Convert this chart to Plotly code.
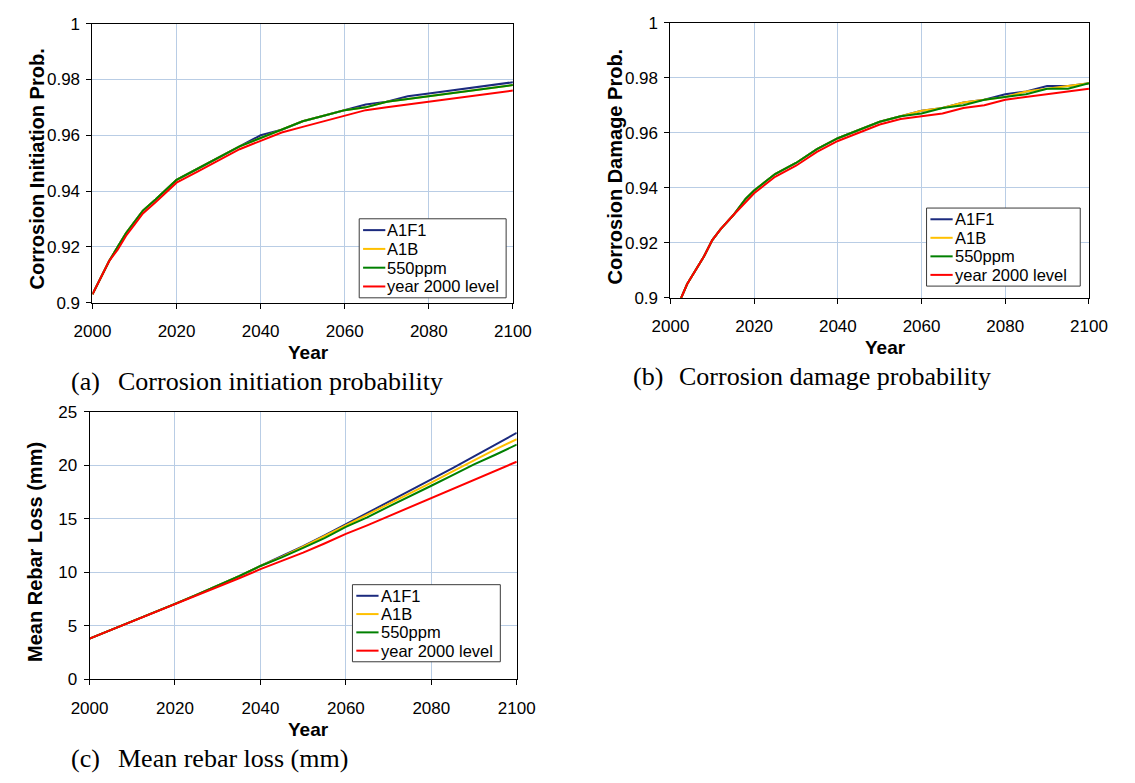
import plotly.graph_objects as go

# ---- data -------------------------------------------------------------
series_names = ["A1F1", "A1B", "550ppm", "year 2000 level"]
series_colors = ["#1b2a7e", "#ffc000", "#008000", "#ff0000"]

prob_years = [2000, 2002, 2004, 2006, 2008, 2010, 2012, 2015, 2018, 2020,
              2025, 2030, 2035, 2040, 2045, 2050, 2055, 2060, 2065, 2070,
              2075, 2080, 2085, 2090, 2095, 2100]

# (a) corrosion initiation probability
init_a1f1 = [0.903, 0.909, 0.915, 0.920, 0.925, 0.929, 0.933, 0.937, 0.941, 0.944,
             0.948, 0.952, 0.956, 0.960, 0.962, 0.965, 0.967, 0.969, 0.971, 0.972,
             0.974, 0.975, 0.976, 0.977, 0.978, 0.979]
init_a1b = [0.903, 0.909, 0.915, 0.920, 0.925, 0.929, 0.933, 0.937, 0.941, 0.944,
            0.948, 0.952, 0.956, 0.959, 0.962, 0.965, 0.967, 0.969, 0.970, 0.972,
            0.973, 0.974, 0.975, 0.976, 0.977, 0.978]
init_550 = [0.903, 0.909, 0.915, 0.920, 0.925, 0.929, 0.933, 0.937, 0.941, 0.944,
            0.948, 0.952, 0.956, 0.959, 0.962, 0.965, 0.967, 0.969, 0.970, 0.972,
            0.973, 0.974, 0.975, 0.976, 0.977, 0.978]
init_2000 = [0.903, 0.909, 0.915, 0.919, 0.924, 0.928, 0.932, 0.936, 0.940, 0.943,
             0.947, 0.951, 0.955, 0.958, 0.961, 0.963, 0.965, 0.967, 0.969, 0.970,
             0.971, 0.972, 0.973, 0.974, 0.975, 0.976]

# (b) corrosion damage probability
dmg_a1f1 = [0.891, 0.898, 0.905, 0.910, 0.915, 0.921, 0.925, 0.930, 0.936, 0.939,
            0.945, 0.949, 0.954, 0.958, 0.961, 0.964, 0.966, 0.968, 0.969, 0.971,
            0.972, 0.974, 0.975, 0.977, 0.977, 0.978]
dmg_a1b = [0.891, 0.898, 0.905, 0.910, 0.915, 0.921, 0.925, 0.930, 0.936, 0.939,
           0.945, 0.949, 0.954, 0.958, 0.961, 0.964, 0.966, 0.968, 0.969, 0.971,
           0.972, 0.973, 0.975, 0.976, 0.977, 0.978]
dmg_550 = [0.891, 0.898, 0.905, 0.910, 0.915, 0.921, 0.925, 0.930, 0.936, 0.939,
           0.945, 0.949, 0.954, 0.958, 0.961, 0.964, 0.966, 0.967, 0.969, 0.970,
           0.972, 0.973, 0.974, 0.976, 0.976, 0.978]
dmg_2000 = [0.891, 0.898, 0.905, 0.910, 0.915, 0.921, 0.925, 0.930, 0.935, 0.938,
            0.944, 0.948, 0.953, 0.957, 0.960, 0.963, 0.965, 0.966, 0.967, 0.969,
            0.970, 0.972, 0.973, 0.974, 0.975, 0.976]

# (c) mean rebar loss (mm)
loss_years = [2000, 2005, 2010, 2015, 2020, 2025, 2030, 2035, 2040, 2045, 2050,
              2055, 2060, 2065, 2070, 2075, 2080, 2085, 2090, 2095, 2100]
loss_a1f1 = [3.8, 4.6, 5.45, 6.25, 7.05, 7.9, 8.75, 9.65, 10.6, 11.5, 12.45,
             13.45, 14.5, 15.5, 16.55, 17.6, 18.7, 19.75, 20.85, 21.95, 23.05]
loss_a1b = [3.8, 4.6, 5.45, 6.25, 7.05, 7.9, 8.75, 9.65, 10.6, 11.45, 12.4,
            13.4, 14.4, 15.35, 16.35, 17.35, 18.4, 19.45, 20.5, 21.5, 22.45]
loss_550 = [3.8, 4.6, 5.45, 6.25, 7.05, 7.9, 8.75, 9.65, 10.6, 11.4, 12.3,
            13.2, 14.25, 15.15, 16.15, 17.1, 18.1, 19.1, 20.1, 21.0, 21.95]
loss_2000 = [3.8, 4.6, 5.4, 6.2, 7.0, 7.8, 8.6, 9.45, 10.3, 11.05, 11.85,
             12.7, 13.6, 14.4, 15.25, 16.1, 17.0, 17.85, 18.65, 19.5, 20.35]

year_ticks = [2000, 2020, 2040, 2060, 2080, 2100]

# ---- layout helpers -----------------------------------------------------
W, H = 1135, 783


def px_x(v):
    return v / W


def px_y(v):
    return 1 - v / H


SANS = "Liberation Sans, Arial, sans-serif"
SERIF = "Liberation Serif, Times New Roman, serif"
GRID = "#b9cde5"

# pixel boxes of the three plot areas (left, right, top, bottom) and of the
# legend boxes (left, top, width, height)
panels = {
    "a": dict(box=(76, 511, 15, 301), years=prob_years,
              data=[init_a1f1, init_a1b, init_550, init_2000],
              yrange=[0.9, 1.0], dtick=0.02, ytitle="Corrosion Initiation Prob.",
              legend_box=(352, 215, 152, 81),
              caption=("(a)", "Corrosion initiation probability", 52)),
    "b": dict(box=(674, 1107, 14, 296), years=prob_years,
              data=[dmg_a1f1, dmg_a1b, dmg_550, dmg_2000],
              yrange=[0.9, 1.0], dtick=0.02, ytitle="Corrosion Damage Prob.",
              legend_box=(939, 204, 159, 80),
              caption=("(b)", "Corrosion damage probability", 633)),
    "c": dict(box=(73, 515, 413, 687), years=loss_years,
              data=[loss_a1f1, loss_a1b, loss_550, loss_2000],
              yrange=[0, 25], dtick=5, ytitle="Mean Rebar Loss (mm)",
              legend_box=(345, 590, 153, 79),
              caption=("(c)", "Mean rebar loss (mm)", 52)),
}

fig = go.Figure()
annotations = []
shapes = []
layout_axes = {}

for i, (key, p) in enumerate(panels.items(), start=1):
    sfx = "" if i == 1 else str(i)
    xref, yref = f"x{sfx}", f"y{sfx}"
    left, right, top, bottom = p["box"]

    for name, color, vals in zip(series_names, series_colors, p["data"]):
        fig.add_trace(go.Scatter(
            x=p["years"], y=vals, mode="lines", name=name,
            line=dict(color=color, width=2),
            xaxis=xref, yaxis=yref, showlegend=False,
            hoverinfo="skip"))

    axis_common = dict(
        showline=True, linecolor="black", linewidth=1, mirror=True,
        ticks="outside", ticklen=5, tickcolor="black", tickwidth=1,
        showgrid=True, gridcolor=GRID, gridwidth=1,
        zeroline=False,
        tickfont=dict(family=SANS, size=17, color="black"),
    )
    layout_axes[f"xaxis{sfx}"] = dict(
        axis_common, domain=[px_x(left), px_x(right)], range=[2000, 2100],
        tickvals=year_ticks, anchor=yref, ticklabelstandoff=8)
    layout_axes[f"yaxis{sfx}"] = dict(
        axis_common, domain=[px_y(bottom), px_y(top)], range=p["yrange"],
        dtick=p["dtick"], tick0=0, anchor=xref, ticklabelstandoff=3)

    # boxed legend inside the plot area
    lx, ly, lw, lh = p["legend_box"]
    step = (lh - 4) / 4.0
    shapes.append(dict(
        type="rect", xref="paper", yref="paper",
        x0=px_x(lx), x1=px_x(lx + lw), y0=px_y(ly + lh), y1=px_y(ly),
        line=dict(color="#3a3a3a", width=1), fillcolor="white", layer="above"))
    for k, (name, color) in enumerate(zip(series_names, series_colors)):
        cy = ly + 2 + step * (k + 0.5)
        shapes.append(dict(
            type="line", xref="paper", yref="paper",
            x0=px_x(lx + 4), x1=px_x(lx + 27), y0=px_y(cy), y1=px_y(cy),
            line=dict(color=color, width=2), layer="above"))
        annotations.append(dict(
            text=name, xref="paper", yref="paper",
            x=px_x(lx + 27), y=px_y(cy), xanchor="left", yanchor="middle",
            showarrow=False, font=dict(family=SANS, size=16.5, color="black")))

    # axis titles
    annotations.append(dict(
        text=f"<b>{p['ytitle']}</b>", textangle=-90, xref="paper", yref="paper",
        x=px_x(left - 57), y=px_y((top + bottom) / 2 + 6),
        xanchor="center", yanchor="middle", showarrow=False,
        font=dict(family=SANS, size=20, color="black")))
    annotations.append(dict(
        text="<b>Year</b>", xref="paper", yref="paper",
        x=px_x((left + right) / 2 + 6), y=px_y(bottom + 51),
        xanchor="center", yanchor="middle", showarrow=False,
        font=dict(family=SANS, size=19, color="black")))

    # caption under each panel
    tag, desc, cap_x0 = p["caption"]
    cap_y = bottom + 81
    annotations.append(dict(
        text=tag, xref="paper", yref="paper", x=px_x(cap_x0), y=px_y(cap_y),
        xanchor="left", yanchor="middle", showarrow=False,
        font=dict(family=SERIF, size=26, color="black")))
    annotations.append(dict(
        text=desc, xref="paper", yref="paper", x=px_x(cap_x0 + 48), y=px_y(cap_y),
        xanchor="left", yanchor="middle", showarrow=False,
        font=dict(family=SERIF, size=26, color="black")))

fig.update_layout(
    width=W, height=H,
    margin=dict(l=0, r=0, t=0, b=0),
    paper_bgcolor="white", plot_bgcolor="white",
    showlegend=False,
    annotations=annotations,
    shapes=shapes,
    **layout_axes,
)

fig.write_html("out.html")
